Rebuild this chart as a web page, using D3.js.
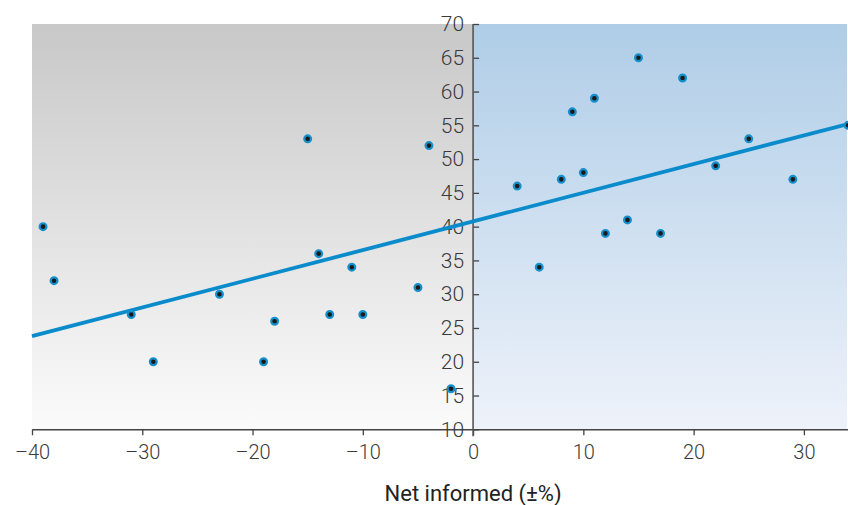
<!DOCTYPE html>
<html>
<head>
<meta charset="utf-8">
<script src="https://cdn.jsdelivr.net/npm/d3@7"></script>
<style>
  body { margin: 0; background: #fff; }
  svg { display: block; }
</style>
</head>
<body>
<div id="chart"></div>
<script>
// Points: net informed (x) vs value (y)
const netInformed = [-39, -38, -31, -29, -23, -19, -18, -15, -14, -13, -11, -10, -5, -4, -2,
  4, 6, 8, 9, 10, 11, 12, 14, 15, 17, 19, 22, 25, 29, 34];
const values = [40, 32, 27, 20, 30, 20, 26, 53, 36, 27, 34, 27, 31, 52, 16,
  46, 34, 47, 57, 48, 59, 39, 41, 65, 39, 62, 49, 53, 47, 55];

// Trend line ends
const trendX = [-40, 34];
const trendY = [23.8, 55.2];

const xTicks = [-40, -30, -20, -10, 0, 10, 20, 30];
const yTicks = [10, 15, 20, 25, 30, 35, 40, 45, 50, 55, 60, 65, 70];

let svgWidth = 848;
let svgHeight = 505;

let svg = d3.select('#chart')
  .append('svg')
  .attr('width', svgWidth)
  .attr('height', svgHeight);

// Scales
let x = d3.scaleLinear().domain([-40, 34]).range([32, 848]);
let y = d3.scaleLinear().domain([10, 70]).range([429.3, 24]);

// Background gradients
let defs = svg.append('defs');
let grey = defs.append('linearGradient').attr('id', 'greyGrad')
  .attr('x1', 0).attr('y1', 0).attr('x2', 0).attr('y2', 1);
grey.append('stop').attr('offset', '0%').attr('stop-color', '#c8c8c8');
grey.append('stop').attr('offset', '100%').attr('stop-color', '#fbfbfb');
let blue = defs.append('linearGradient').attr('id', 'blueGrad')
  .attr('x1', 0).attr('y1', 0).attr('x2', 0).attr('y2', 1);
blue.append('stop').attr('offset', '0%').attr('stop-color', '#afcde7');
blue.append('stop').attr('offset', '100%').attr('stop-color', '#eef2fa');

svg.append('rect')
  .attr('x', x(-40)).attr('y', y(70))
  .attr('width', x(0) - x(-40)).attr('height', y(10) - y(70))
  .attr('fill', 'url(#greyGrad)');
svg.append('rect')
  .attr('x', x(0)).attr('y', y(70))
  .attr('width', x(34) - x(0) - 1).attr('height', y(10) - y(70))
  .attr('fill', 'url(#blueGrad)');

// X axis
let xAxis = svg.append('g')
  .attr('transform', `translate(0, ${y(10)})`)
  .call(d3.axisBottom(x).tickValues(xTicks).tickSize(6).tickSizeOuter(0)
    .tickFormat(d => d < 0 ? '\u2013' + Math.abs(d) : d));
xAxis.select('.domain').attr('stroke', '#444').attr('stroke-width', 1.5);
xAxis.selectAll('.tick line').attr('stroke', '#444').attr('stroke-width', 1.3);
xAxis.selectAll('.tick text')
  .attr('font-family', 'Roboto, "Liberation Sans", sans-serif')
  .attr('font-weight', 300)
  .attr('font-size', '20px')
  .attr('fill', '#3a3a3a')
  .attr('dy', '1.05em');

// Y axis (at x = 0), ticks point right, labels on the left
let yAxis = svg.append('g')
  .attr('transform', `translate(${x(0)}, 0)`)
  .call(d3.axisRight(y).tickValues(yTicks).tickSize(6).tickSizeOuter(0));
yAxis.select('.domain').remove();
yAxis.append('line')
  .attr('x1', 0).attr('x2', 0)
  .attr('y1', y(70)).attr('y2', y(10) + 7)
  .attr('stroke', '#555').attr('stroke-width', 1.6);
yAxis.selectAll('.tick line').attr('stroke', '#444').attr('stroke-width', 1.3);
yAxis.selectAll('.tick text')
  .attr('x', -9)
  .attr('text-anchor', 'end')
  .attr('font-family', 'Roboto, "Liberation Sans", sans-serif')
  .attr('font-weight', 300)
  .attr('font-size', '21px')
  .attr('fill', '#3a3a3a');

// Trend line
svg.append('line')
  .attr('x1', x(trendX[0])).attr('y1', y(trendY[0]))
  .attr('x2', x(trendX[1])).attr('y2', y(trendY[1]))
  .attr('stroke', '#0a8bcb')
  .attr('stroke-width', 3.8)
  .attr('stroke-linecap', 'butt');

// Points
let pts = netInformed.map((d, i) => ({ x: d, y: values[i] }));
svg.selectAll('.pt')
  .data(pts)
  .enter()
  .append('circle')
  .attr('class', 'pt')
  .attr('cx', d => x(d.x))
  .attr('cy', d => y(d.y))
  .attr('r', 3.4)
  .attr('fill', '#1a1a1a')
  .attr('stroke', '#1690cc')
  .attr('stroke-width', 2.2);

// Axis title
svg.append('text')
  .attr('x', x(0))
  .attr('y', 501)
  .attr('text-anchor', 'middle')
  .attr('font-family', 'Roboto, "Liberation Sans", sans-serif')
  .attr('font-size', '22px')
  .attr('fill', '#222')
  .text('Net informed (\u00b1%)');
</script>
</body>
</html>
